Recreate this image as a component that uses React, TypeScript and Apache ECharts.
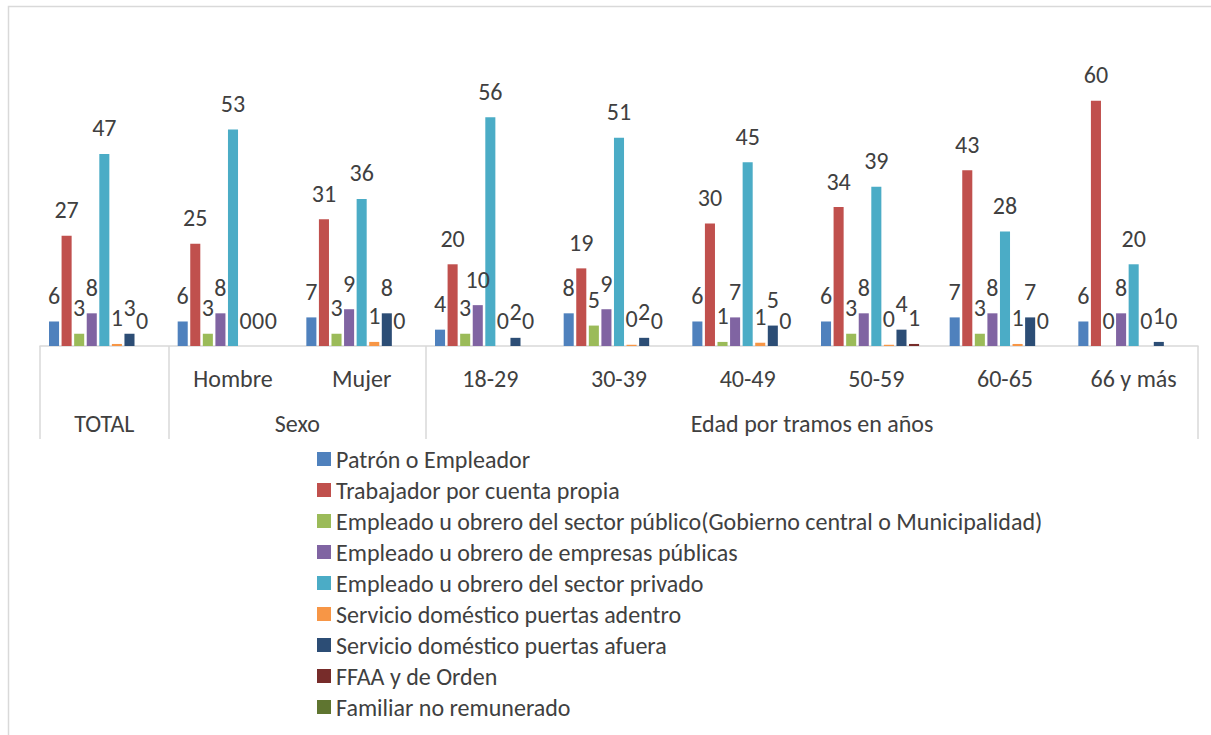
import React, { useEffect, useRef } from "react";
import * as echarts from "echarts";

const categories = ["TOTAL", "Hombre", "Mujer", "18-29", "30-39", "40-49", "50-59", "60-65", "66 y más"];
const groupNames = ["TOTAL", "Sexo", "Edad por tramos en años"];
const groupStarts = [0, 1, 3];
const groupEnds = [1, 3, 9];

const seriesNames = [
  "Patrón o Empleador",
  "Trabajador por cuenta propia",
  "Empleado u obrero del sector público(Gobierno central o Municipalidad)",
  "Empleado u obrero de empresas públicas",
  "Empleado u obrero del sector privado",
  "Servicio doméstico puertas adentro",
  "Servicio doméstico puertas afuera",
  "FFAA y de Orden",
  "Familiar no remunerado",
];

const patron = [6, 6, 7, 4, 8, 6, 6, 7, 6];
const cuentaPropia = [27, 25, 31, 20, 19, 30, 34, 43, 60];
const sectorPublico = [3, 3, 3, 3, 5, 1, 3, 3, 0];
const empresasPublicas = [8, 8, 9, 10, 9, 7, 8, 8, 8];
const sectorPrivado = [47, 53, 36, 56, 51, 45, 39, 28, 20];
const domesticoAdentro = [0.5, 0, 1, 0, 0.3, 0.8, 0.3, 0.5, 0];
const domesticoAfuera = [3, 0, 8, 2, 2, 5, 4, 7, 1];
const ffaa = [0, 0, 0, 0, 0, 0, 0.5, 0, 0];
const familiar = [0, 0, 0, 0, 0, 0, 0, 0, 0];

const seriesData = [
  patron,
  cuentaPropia,
  sectorPublico,
  empresasPublicas,
  sectorPrivado,
  domesticoAdentro,
  domesticoAfuera,
  ffaa,
  familiar,
];
const showLabel = [true, true, true, true, true, true, true, true, false];

const colors = ["#4F81BD", "#C0504D", "#9BBB59", "#8064A2", "#4BACC6", "#F79646", "#2C4D75", "#772C2A", "#5F7530"];

const FONT = "Carlito, Calibri, Lato, sans-serif";
const FS = 24;
const TEXT = "#404040";
const LINE = "#D9D9D9";

export default function App() {
  const ref = useRef<HTMLDivElement>(null);
  useEffect(() => {
    if (!ref.current) return;
    const chart = echarts.init(ref.current, undefined, { renderer: "svg" });
    const option: any = {
      animation: false,
      color: colors,
      textStyle: { fontFamily: FONT, color: TEXT },
      graphic: [
        {
          type: "rect",
          shape: { x: 8.5, y: 6.5, width: 1230, height: 760 },
          style: { fill: "none", stroke: LINE, lineWidth: 1.5 },
          silent: true,
        },
      ],
      grid: { left: 40, right: 13, top: 60, bottom: 389, containLabel: false },
      legend: {
        orient: "vertical",
        left: 317,
        top: 447,
        padding: 0,
        itemWidth: 14,
        itemHeight: 14,
        itemGap: 7,
        icon: "rect",
        textStyle: { fontFamily: FONT, fontSize: FS, color: TEXT, lineHeight: 24 },
        data: seriesNames,
      },
      xAxis: [
        {
          type: "category",
          data: categories,
          position: "bottom",
          axisLine: { show: true, lineStyle: { color: LINE, width: 1.5 } },
          axisTick: { show: false },
          axisLabel: {
            interval: 0,
            margin: 20,
            fontFamily: FONT,
            fontSize: FS,
            color: TEXT,
            formatter: (v: string) => (groupNames.includes(v) ? "" : v),
          },
        },
        {
          type: "value",
          min: 0,
          max: categories.length,
          position: "bottom",
          axisLine: { show: false },
          splitLine: { show: false },
          axisTick: {
            show: true,
            length: 93,
            customValues: [...groupStarts, groupEnds[groupEnds.length - 1]],
            lineStyle: { color: LINE, width: 1.5 },
          },
          axisLabel: {
            show: true,
            margin: 65,
            fontFamily: FONT,
            fontSize: FS,
            color: TEXT,
            customValues: groupStarts.map((s, i) => (s + groupEnds[i]) / 2),
            formatter: (v: number) => {
              const i = groupStarts.findIndex((s, k) => (s + groupEnds[k]) / 2 === v);
              return i >= 0 ? groupNames[i] : "";
            },
          },
        },
      ],
      yAxis: { type: "value", min: 0, max: 70, show: false, splitLine: { show: false } },
      series: seriesNames.map((name, i) => ({
        name,
        type: "bar",
        xAxisIndex: 0,
        data: seriesData[i],
        barGap: "25%",
        barCategoryGap: "14%",
        label: {
          show: showLabel[i],
          position: "top",
          distance: 14,
          fontFamily: FONT,
          fontSize: FS,
          color: TEXT,
          formatter: (p: any) => String(Math.round(p.value)),
        },
      })),
    };
    chart.setOption(option);
    return () => chart.dispose();
  }, []);
  return (
    <div
      ref={ref}
      style={{ position: "fixed", left: 0, top: 0, width: 1211, height: 735, background: "#fff" }}
    />
  );
}
